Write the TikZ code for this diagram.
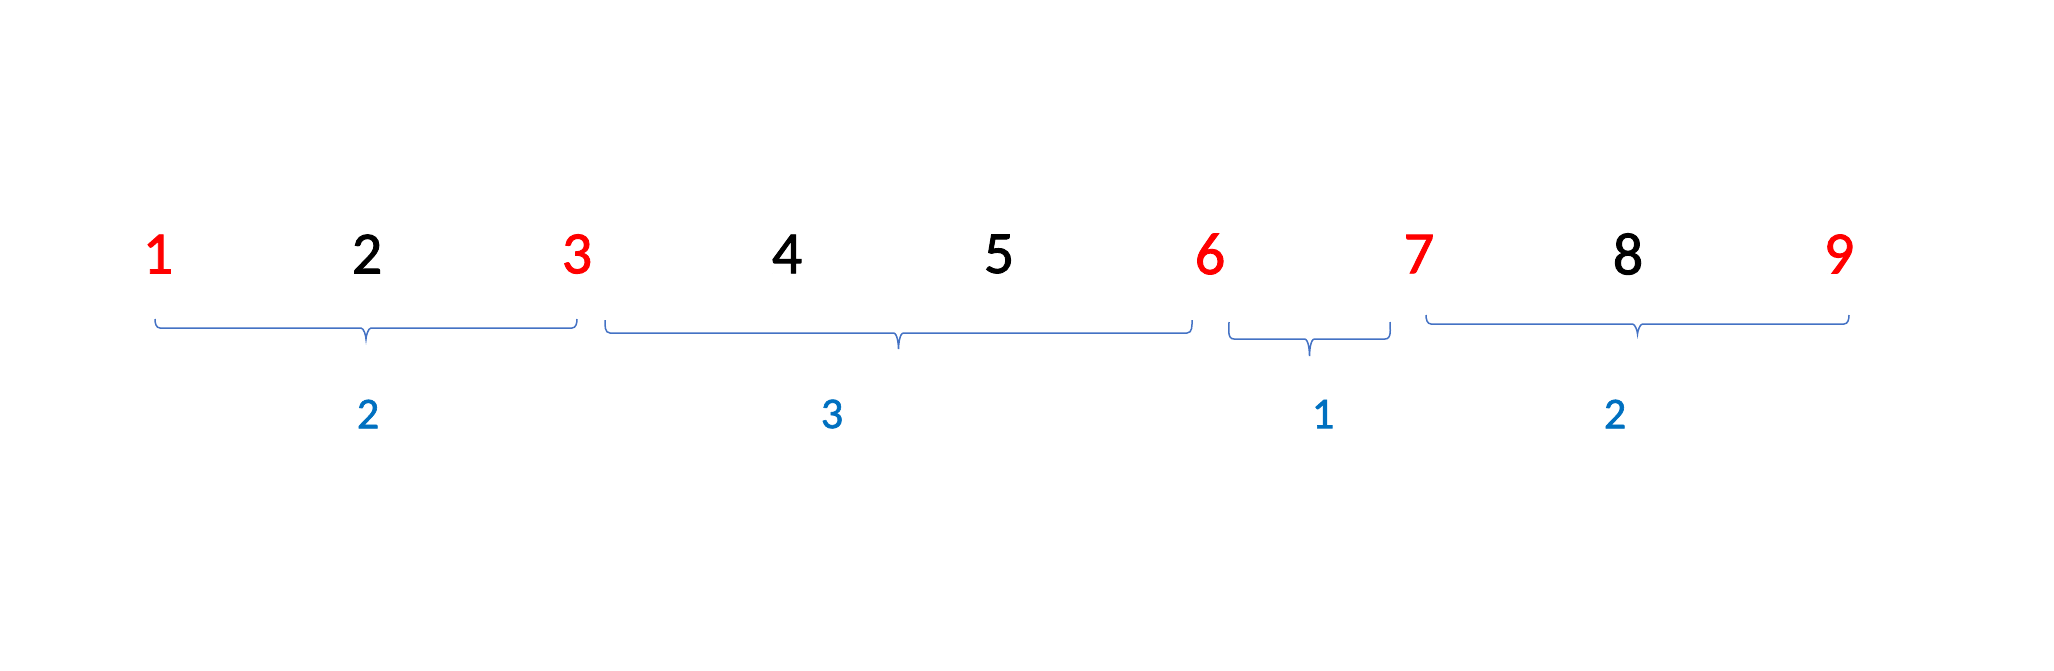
\documentclass[tikz,border=0pt]{standalone}
\usepackage{fontspec}
\setmainfont{Carlito}
\newfontfamily\digitfont[FakeBold=1.5]{Carlito}
\definecolor{numred}{HTML}{FF0000}
\definecolor{brblue}{HTML}{4472C4}
\definecolor{lblblue}{HTML}{0070C0}
\newcommand\mybrace[5]{%
 \pgfmathsetmacro\bm{(#1+#2)/2}%
 \draw[bracestyle] (#1,-#3) to[out=-90,in=180] (#1+5,-#4) -- (\bm-5,-#4) to[out=0,in=90,looseness=0.6] (\bm,-#5) to[out=90,in=180,looseness=0.6] (\bm+5,-#4) -- (#2-5,-#4) to[out=0,in=-90] (#2,-#3);}
\begin{document}
\begin{tikzpicture}[x=0.5pt,y=0.5pt,
  digit/.style={font=\digitfont\fontsize{30}{36}\selectfont, inner sep=0pt, anchor=center},
  reddigit/.style={digit,text=numred},
  blackdigit/.style={digit,text=black},
  lbl/.style={font=\digitfont\fontsize{22}{26}\selectfont,text=lblblue,inner sep=0pt,anchor=center},
  bracestyle/.style={draw=brblue,line width=0.75pt}]
\useasboundingbox (0,0) rectangle (2054,-670);
\node[reddigit]   (n1) at (158,-254) {1};
\node[blackdigit] (n2) at (367,-254) {2};
\node[reddigit]   (n3) at (577,-254) {3};
\node[blackdigit] (n4) at (787,-254) {4};
\node[blackdigit] (n5) at (999,-254) {5};
\node[reddigit]   (n6) at (1210,-254) {6};
\node[reddigit]   (n7) at (1419,-254) {7};
\node[blackdigit] (n8) at (1628,-254) {8};
\node[reddigit]   (n9) at (1839,-254) {9};
\mybrace{155}{577}{319}{328}{339}
\mybrace{605}{1192}{320}{333}{349}
\mybrace{1229}{1390}{322}{339}{356}
\mybrace{1426}{1849}{315}{324}{334}
\node[lbl] (l1) at (368,-414) {2};
\node[lbl] (l2) at (832,-414) {3};
\node[lbl] (l3) at (1323,-414) {1};
\node[lbl] (l4) at (1615,-414) {2};
\end{tikzpicture}
\end{document}
